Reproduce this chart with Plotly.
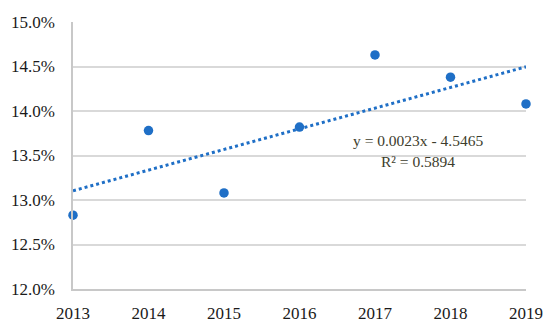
import numpy as np
import plotly.graph_objects as go

years = [2013, 2014, 2015, 2016, 2017, 2018, 2019]
values = [0.1283, 0.1378, 0.1308, 0.1382, 0.1463, 0.1438, 0.1408]
y_ticks = [0.12, 0.125, 0.13, 0.135, 0.14, 0.145, 0.15]
y_tick_labels = ["12.0%", "12.5%", "13.0%", "13.5%", "14.0%", "14.5%", "15.0%"]
equation_line = "y = 0.0023x - 4.5465"
r2_line = "R² = 0.5894"

blue = "#1f6fc6"
serif = "Liberation Serif, DejaVu Serif, serif"
slope, intercept = np.polyfit(years, values, 1)
trend = [slope * x + intercept for x in years]

fig = go.Figure()
fig.add_trace(go.Scatter(x=years, y=trend, mode="lines",
                         line=dict(color=blue, width=3, dash="dot"),
                         hoverinfo="skip", cliponaxis=False))
fig.add_trace(go.Scatter(x=years, y=values, mode="markers",
                         marker=dict(color=blue, size=9.5), cliponaxis=False))

for txt, yp in [(equation_line, 0.558), (r2_line, 0.479)]:
    fig.add_annotation(x=0.7616, y=yp, xref="paper", yref="paper",
                       text=txt, showarrow=False, xanchor="center", yanchor="middle",
                       font=dict(family=serif, size=15.5, color="#3d3d2d"))

fig.update_layout(
    width=550, height=327,
    margin=dict(l=73, r=24, t=22, b=38, autoexpand=False),
    paper_bgcolor="white", plot_bgcolor="white",
    showlegend=False,
    font=dict(family=serif, size=16, color="#1a1a1a"),
)
fig.update_xaxes(range=[2013, 2019], tickvals=years, ticktext=[str(y) for y in years],
                 tickfont=dict(family=serif, size=17, color="#1a1a1a"),
                 showgrid=False, zeroline=False, showline=True, automargin=False,
                 linecolor="#c8c8c8", linewidth=1.5,
                 ticks="outside", ticklen=8, tickcolor="rgba(0,0,0,0)")
fig.update_yaxes(range=[0.12, 0.15], tickvals=y_ticks, ticktext=y_tick_labels,
                 tickfont=dict(family=serif, size=17, color="#1a1a1a"),
                 showgrid=True, gridcolor="#d9d9d9", gridwidth=1.5, automargin=False,
                 zeroline=False, showline=True, linecolor="#c8c8c8", linewidth=1.5,
                 ticklabelstandoff=13)

fig.write_html("out.html", config={"displayModeBar": False},
               post_script="document.body.style.margin='0px';document.body.style.padding='0px';")
